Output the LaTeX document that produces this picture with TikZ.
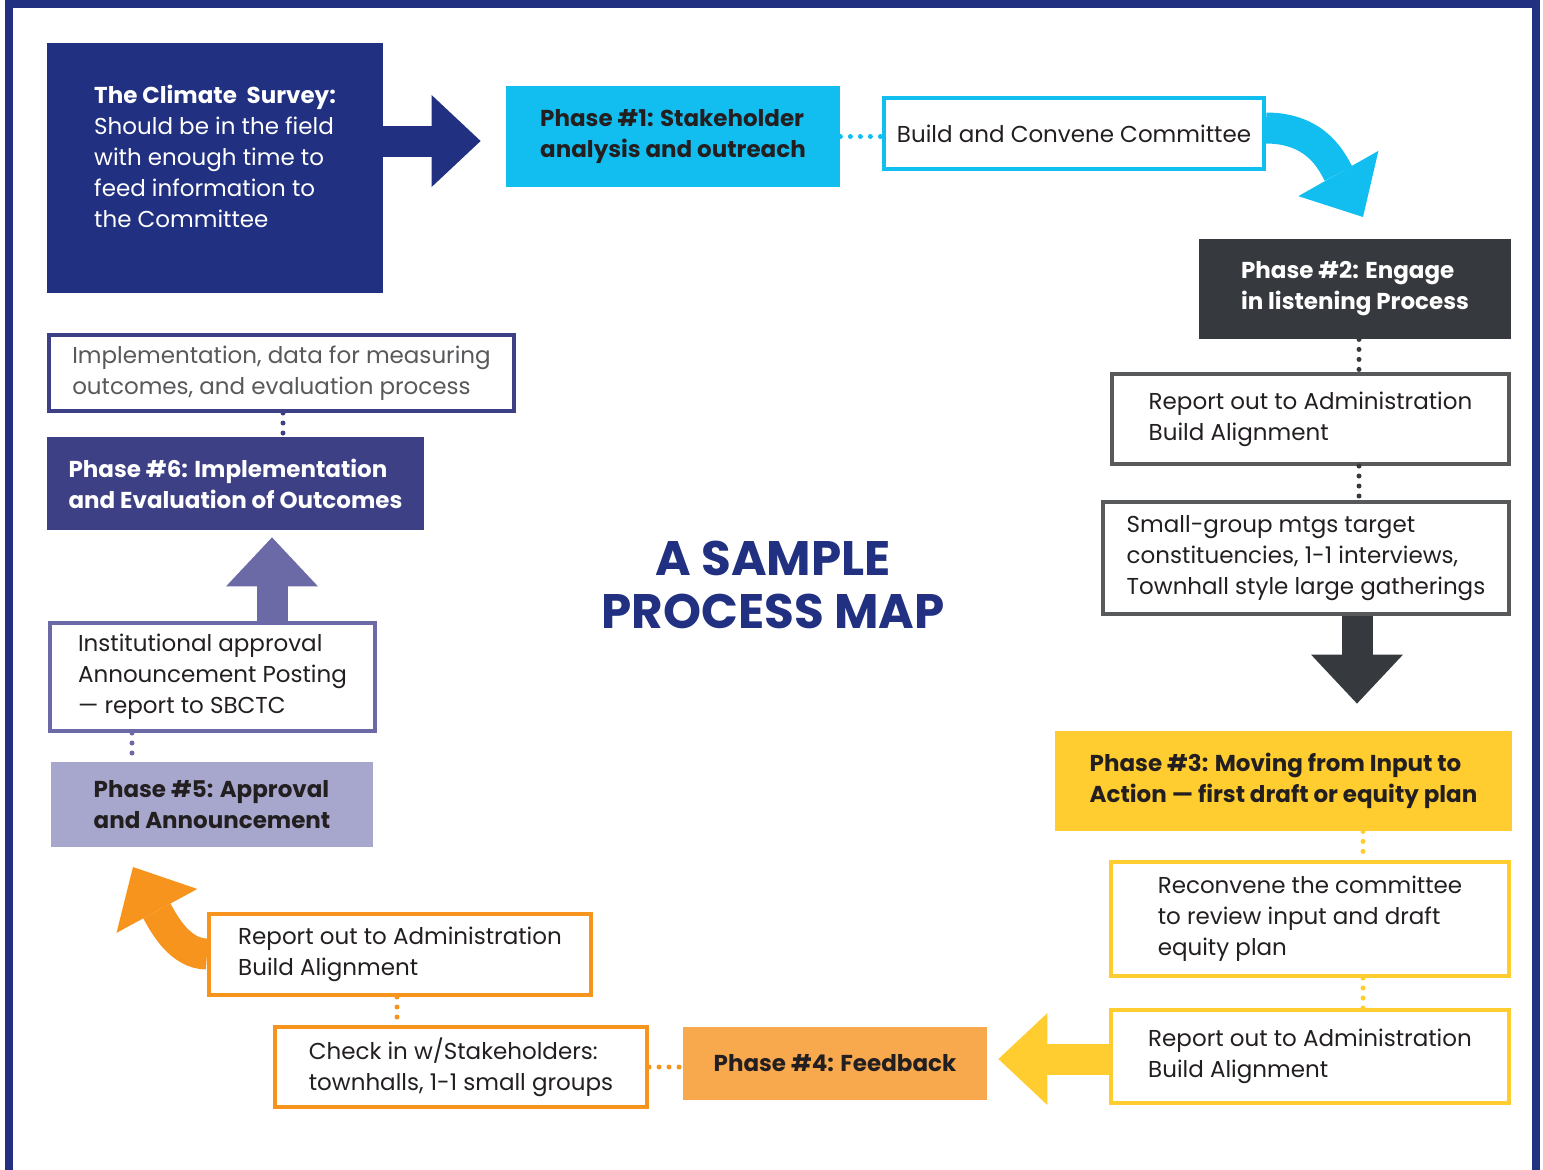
\documentclass[tikz,border=0pt]{standalone}
\usepackage{fontspec}
\setmainfont{Poppins}
\usetikzlibrary{arrows.meta,calc}
\definecolor{mapNavy}{RGB}{33,48,128}
\definecolor{mapCyan}{RGB}{18,190,240}
\definecolor{mapCharcoal}{RGB}{54,57,62}
\definecolor{mapGrey}{RGB}{88,89,91}
\definecolor{mapYellow}{RGB}{255,205,47}
\definecolor{mapOrange}{RGB}{247,148,29}
\definecolor{mapApricot}{RGB}{248,169,78}
\definecolor{mapLavender}{RGB}{167,167,205}
\definecolor{mapPurple}{RGB}{107,105,166}
\definecolor{mapIndigo}{RGB}{62,64,134}
\definecolor{mapInk}{RGB}{35,31,32}

\begin{document}
\begin{tikzpicture}[x=0.5pt, y=-0.5pt,
    txt/.style={font=\fontsize{11.5}{15.5}\selectfont, text=mapInk, align=left, inner sep=0pt},
    phasebox/.style={txt, font=\fontsize{11.5}{15.5}\selectfont\bfseries},
    linebox/.style={txt, draw=#1, line width=2pt, fill=white},
    dotline/.style={line width=2.5pt, line cap=round, dash pattern=on 0pt off 5pt},
    blockarrow/.style={line width=15.5pt, -{Triangle[width=46pt,length=24.5pt,line width=0pt]}}]
    \useasboundingbox (0,0) rectangle (1543,1169);
    \clip (0,0) rectangle (1543,1169);
    % --- frame ---
    \draw[mapNavy, line width=4pt] (8.5,1200) -- (8.5,4) -- (1536,4) -- (1536,1200);
    % --- survey and phase 1 ---
    \node[txt, text=white, fill=mapNavy, minimum width=168pt, minimum height=125pt]
      (survey) at (215,168) {\textbf{The Climate\ \ Survey:}\\Should be in the field\\with enough time to\\feed information to\\the Committee\\[-3.5pt]\mbox{}};
    \node[phasebox, fill=mapCyan, minimum width=167pt, minimum height=50.5pt]
      (phaseone) at (673,136.5) {Phase \#1: Stakeholder\\analysis and outreach};
    \node[linebox=mapCyan, minimum width=190pt, minimum height=35.5pt]
      (build) at (1074,133.5) {Build and Convene Committee};
    % --- phase 2 column ---
    \node[phasebox, text=white, fill=mapCharcoal, minimum width=156pt, minimum height=50pt]
      (phasetwo) at (1355,289) {Phase \#2: Engage\\in listening Process};
    \node[linebox=mapGrey, minimum width=198.5pt, minimum height=45pt]
      (reportone) at (1310.5,419) {Report out to Administration\\Build Alignment};
    \node[linebox=mapGrey, minimum width=203pt, minimum height=56pt]
      (smallgrp) at (1306,558) {Small-group mtgs target\\constituencies, 1-1 interviews,\\Townhall style large gatherings};
    % --- phase 3 column ---
    \node[phasebox, fill=mapYellow, minimum width=228.5pt, minimum height=50pt]
      (phasethree) at (1283.5,781) {Phase \#3: Moving from Input to\\Action — first draft or equity plan};
    \node[linebox=mapYellow, minimum width=199pt, minimum height=57pt]
      (reconvene) at (1310,919) {Reconvene the committee\\to review input and draft\\equity plan};
    \node[linebox=mapYellow, minimum width=199pt, minimum height=46.5pt]
      (reportyel) at (1310,1056.5) {Report out to Administration\\Build Alignment};
    % --- phase 4 row ---
    \node[phasebox, fill=mapApricot, minimum width=152pt, minimum height=36.5pt]
      (phasefour) at (835,1063.5) {Phase \#4: Feedback};
    \node[linebox=mapOrange, minimum width=186pt, minimum height=40pt]
      (checkin) at (461,1067) {Check in w/Stakeholders:\\townhalls, 1-1 small groups};
    \node[linebox=mapOrange, minimum width=191pt, minimum height=40.5pt]
      (reportorg) at (400,954.5) {Report out to Administration\\Build Alignment};
    % --- phase 5 and 6 column ---
    \node[phasebox, fill=mapLavender, minimum width=161pt, minimum height=42.5pt]
      (phasefive) at (212,804.5) {Phase \#5: Approval\\and Announcement};
    \node[linebox=mapPurple, minimum width=162.5pt, minimum height=54pt]
      (instit) at (212.5,677) {Institutional approval\\Announcement Posting\\— report to SBCTC};
    \node[phasebox, text=white, fill=mapIndigo, minimum width=188.5pt, minimum height=46.5pt]
      (phasesix) at (235.5,483.5) {Phase \#6: Implementation\\and Evaluation of Outcomes};
    \node[linebox=mapIndigo, text=mapGrey, minimum width=232.5pt, minimum height=38pt]
      (implem) at (281.5,373) {Implementation, data for measuring\\outcomes, and evaluation process};
    % --- title ---
    \node[font=\fontsize{24.2}{26.5}\selectfont\bfseries, text=mapNavy, align=center]
      (title) at (773,584.5) {A SAMPLE\\PROCESS MAP};
    % --- dotted links ---
    \draw[dotline, mapCyan] (phaseone.east) -- (phaseone.east -| build.west);
    \draw[dotline, mapCharcoal] (1359,0 |- phasetwo.south) -- (1359,0 |- reportone.north);
    \draw[dotline, mapCharcoal] (1359,0 |- reportone.south) -- (1359,0 |- smallgrp.north);
    \draw[dotline, mapYellow] (1363,0 |- phasethree.south) -- (1363,0 |- reconvene.north);
    \draw[dotline, mapYellow] (1363,0 |- reconvene.south) -- (1363,0 |- reportyel.north);
    \draw[dotline, mapOrange] (checkin.east) -- (checkin.east -| phasefour.west);
    \draw[dotline, mapOrange] (397,0 |- reportorg.south) -- (397,0 |- checkin.north);
    \draw[dotline, mapPurple] (132,0 |- instit.south) -- (132,0 |- phasefive.north);
    \draw[dotline, mapIndigo] (283,0 |- implem.south) -- (283,0 |- phasesix.north);
    % --- block arrows ---
    \coordinate (cyantip) at (1363,217);
    \coordinate (orangetip) at (133,867);
    \draw[blockarrow, mapNavy, shorten >=12.5pt] (survey.east |- 0,141) -- (phaseone.west |- 0,141);
    \draw[blockarrow, mapCyan, -{Triangle[width=46pt,length=25pt,line width=0pt]}]
      (build.east |- 0,128) .. controls (1318,128) and (1333,164) .. (cyantip);
    \draw[blockarrow, mapCharcoal, shorten >=13.5pt] (smallgrp.south -| 1357,0) -- (phasethree.north -| 1357,0);
    \draw[blockarrow, mapYellow, shorten >=5.5pt] (reportyel.west |- 0,1059) -- (phasefour.east |- 0,1059);
    \draw[blockarrow, mapOrange, -{Triangle[width=46pt,length=25pt,line width=0pt]}]
      (reportorg.west |- 0,954) .. controls (180,954) and (164,924) .. (orangetip);
    \draw[blockarrow, mapPurple, shorten >=3.5pt] (instit.north -| 272,0) -- (phasesix.south -| 272,0);
\end{tikzpicture}
\end{document}
